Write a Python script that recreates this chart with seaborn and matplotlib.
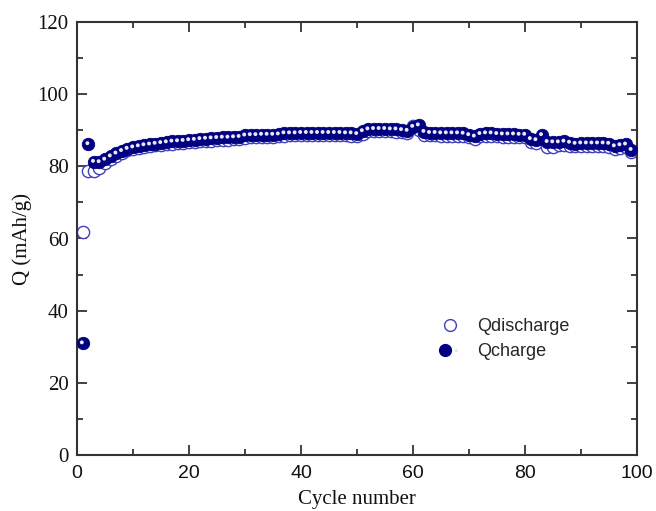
import numpy as np
import pandas as pd
import matplotlib
matplotlib.use("Agg")
import matplotlib.pyplot as plt
import matplotlib.transforms as mtransforms
from matplotlib.lines import Line2D
from matplotlib.legend_handler import HandlerTuple
from matplotlib.ticker import MultipleLocator
import seaborn as sns

cycles = list(range(1, 100))

q_charge = [
    31.0, 86.2, 81.3, 81.2, 81.9, 82.8, 83.6, 84.3, 84.9, 85.3,
    85.6, 85.9, 86.1, 86.3, 86.5, 86.7, 86.9, 87.0, 87.1, 87.3,
    87.4, 87.6, 87.7, 87.8, 87.9, 88.0, 88.0, 88.1, 88.2, 88.6,
    88.7, 88.7, 88.8, 88.8, 88.8, 88.9, 89.2, 89.2, 89.2, 89.3,
    89.3, 89.3, 89.3, 89.3, 89.3, 89.3, 89.3, 89.2, 89.2, 89.0,
    89.8, 90.3, 90.4, 90.4, 90.4, 90.3, 90.3, 90.1, 89.9, 91.0,
    91.4, 89.6, 89.3, 89.3, 89.2, 89.2, 89.2, 89.2, 89.1, 88.7,
    88.3, 89.0, 89.2, 89.2, 89.0, 88.9, 88.9, 88.9, 88.8, 88.8,
    87.6, 87.3, 88.7, 86.8, 86.7, 86.7, 86.9, 86.6, 86.3, 86.4,
    86.4, 86.4, 86.4, 86.4, 86.3, 85.6, 85.9, 86.1, 84.6,
]

q_discharge = [
    61.9, 78.7, 78.6, 79.6, 80.8, 82.0, 83.0, 83.8, 84.4, 84.8,
    85.1, 85.4, 85.6, 85.8, 86.0, 86.2, 86.3, 86.4, 86.6, 86.7,
    86.8, 86.9, 87.0, 87.1, 87.3, 87.4, 87.4, 87.5, 87.6, 87.8,
    88.0, 88.1, 88.1, 88.1, 88.2, 88.3, 88.5, 88.6, 88.6, 88.7,
    88.7, 88.7, 88.7, 88.7, 88.7, 88.7, 88.6, 88.6, 88.5, 88.4,
    89.0, 89.7, 89.8, 89.8, 89.8, 89.7, 89.6, 89.4, 89.3, 91.2,
    90.2, 88.8, 88.6, 88.6, 88.5, 88.5, 88.5, 88.4, 88.4, 88.0,
    87.5, 88.3, 88.5, 88.4, 88.3, 88.2, 88.2, 88.1, 88.1, 88.0,
    86.8, 86.4, 87.6, 85.4, 85.3, 85.8, 86.0, 85.7, 85.5, 85.6,
    85.6, 85.6, 85.6, 85.5, 85.4, 84.9, 85.1, 85.3, 84.0,
]

x_ticks = [0, 20, 40, 60, 80, 100]
y_ticks = [0, 20, 40, 60, 80, 100, 120]

navy = "#000080"
open_blue = "#4040BF"
spot = "#E8E8F4"

sns.set_theme(style="ticks")
plt.rcParams["font.family"] = ["Liberation Serif", "DejaVu Serif"]

df = pd.DataFrame({"cycle": cycles, "charge": q_charge, "discharge": q_discharge})

fig = plt.figure(figsize=(6.56, 5.11), dpi=100)
ax = fig.add_axes([77 / 656, 1 - 455 / 511, (637 - 77) / 656, (455 - 22) / 511])

# open circles: discharge capacity
sns.scatterplot(data=df, x="cycle", y="discharge", ax=ax, marker="o",
                s=78, facecolor="white", edgecolor=open_blue, linewidth=1.0,
                zorder=2)
# shaded balls: charge capacity
sns.scatterplot(data=df, x="cycle", y="charge", ax=ax, marker="o",
                s=80, color=navy, edgecolor=navy, linewidth=0.6, zorder=3)
# specular highlight on each ball
sns.scatterplot(data=df, x="cycle", y="charge", ax=ax, marker="o",
                s=8, color=spot, edgecolor="none", linewidth=0, zorder=4)
shift = mtransforms.ScaledTranslation(-0.8 / 100, 0.8 / 100, fig.dpi_scale_trans)
ax.collections[-1].set_offset_transform(ax.transData + shift)

ax.set_xlim(0, 100)
ax.set_ylim(0, 120)
ax.set_xticks(x_ticks)
ax.set_yticks(y_ticks)
ax.xaxis.set_minor_locator(MultipleLocator(10))
ax.yaxis.set_minor_locator(MultipleLocator(10))
ax.tick_params(which="both", direction="in", top=True, right=True,
               color="#222222", width=1.2)
ax.tick_params(which="major", length=7)
ax.tick_params(which="minor", length=4)
ax.tick_params(axis="x", which="major", pad=7)
ax.tick_params(axis="y", which="major", pad=6)

for lab in ax.get_xticklabels():
    lab.set_fontfamily(["Liberation Sans", "DejaVu Sans"])
    lab.set_fontsize(14)
    lab.set_color("#111111")
for lab in ax.get_yticklabels():
    lab.set_fontfamily(["Liberation Serif", "DejaVu Serif"])
    lab.set_fontsize(15)
    lab.set_color("#111111")

for sp in ax.spines.values():
    sp.set_linewidth(1.5)
    sp.set_color("#333333")

ax.set_xlabel("Cycle number", fontsize=15, color="#111111", labelpad=6)
ax.set_ylabel("Q (mAh/g)", fontsize=15, color="#111111", labelpad=4)

h_dis = Line2D([], [], linestyle="none", marker="o", markersize=8.5,
               markerfacecolor="white", markeredgecolor=open_blue,
               markeredgewidth=1.0)
h_ball = Line2D([], [], linestyle="none", marker="o", markersize=8.5,
                markerfacecolor=navy, markeredgecolor=navy)
h_spot = Line2D([], [], linestyle="none", marker="o", markersize=2.6,
                markerfacecolor=spot, markeredgecolor="none")
leg = ax.legend([h_dis, (h_ball, h_spot)], ["Qdischarge", "Qcharge"],
                handler_map={tuple: HandlerTuple(ndivide=None, pad=0)},
                loc="center left", bbox_to_anchor=(0.618, 0.268),
                frameon=False, handlelength=1.2, handletextpad=0.9,
                labelspacing=0.45,
                prop={"family": ["Liberation Sans", "DejaVu Sans"], "size": 13})

fig.savefig("out.png", dpi=100)
